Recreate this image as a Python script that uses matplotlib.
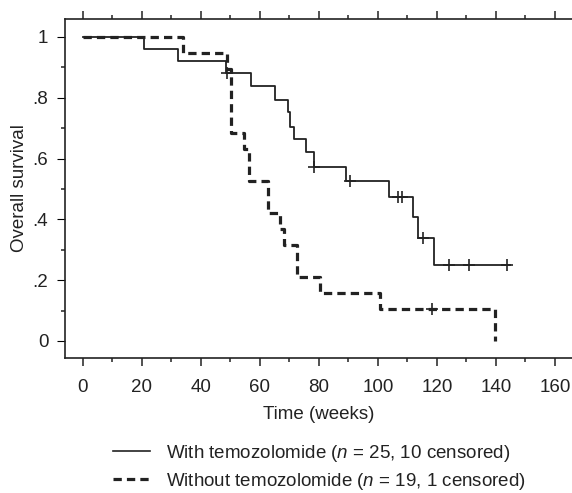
import matplotlib
matplotlib.use("Agg")
import matplotlib.pyplot as plt
from matplotlib.lines import Line2D

plt.rcParams['font.family'] = ['Liberation Sans', 'DejaVu Sans']
plt.rcParams['mathtext.fontset'] = 'custom'
plt.rcParams['mathtext.it'] = 'Liberation Sans:italic'
plt.rcParams['mathtext.rm'] = 'Liberation Sans'

# Kaplan-Meier curves (weeks, survival)
with_weeks = [0, 20.7, 32.2, 48.6, 57.0, 65.1, 69.5, 70.1, 71.4, 75.5, 78.4, 89.2, 103.7, 111.9, 113.6, 119.0, 144.9]
with_surv = [1.0, 0.96, 0.92, 0.88, 0.839, 0.793, 0.753, 0.704, 0.664, 0.622, 0.572, 0.526, 0.474, 0.408, 0.339, 0.25, 0.25]
with_cens_weeks = [48.8, 78.2, 90.5, 106.8, 108.2, 115.3, 124.1, 131.0, 143.9]
with_cens_surv = [0.88, 0.572, 0.526, 0.474, 0.474, 0.339, 0.25, 0.25, 0.25]

wo_weeks = [0, 34.0, 48.9, 50.3, 54.6, 56.2, 62.7, 66.8, 68.0, 72.5, 80.5, 100.7, 139.6]
wo_surv = [1.0, 0.947, 0.895, 0.684, 0.632, 0.526, 0.421, 0.368, 0.316, 0.211, 0.158, 0.105, 0.0]
wo_cens_weeks = [118.3]
wo_cens_surv = [0.105]

xticks = [0, 20, 40, 60, 80, 100, 120, 140, 160]
yticks = [0, 0.2, 0.4, 0.6, 0.8, 1.0]
ytick_labels = ['0', '.2', '.4', '.6', '.8', '1']

labels = [r'With temozolomide ($\it{n}$ = 25, 10 censored)',
          r'Without temozolomide ($\it{n}$ = 19, 1 censored)']

ink = '#222222'
fs = 13.5
W, H = 572, 493
fig = plt.figure(figsize=(W / 100, H / 100), dpi=100)
ax = fig.add_axes([65 / W, 1 - 358 / H, 1 - 65 / W, (358 - 19) / H])

ax.step(with_weeks, with_surv, where='post', color=ink, lw=1.3)
ax.plot(with_cens_weeks, with_cens_surv, ls='none', marker='+', ms=9, mew=1.2, color=ink)
ax.step(wo_weeks, wo_surv, where='post', color=ink, lw=2.3, linestyle=(0, (2.6, 1.6)))
ax.plot(wo_cens_weeks, wo_cens_surv, ls='none', marker='+', ms=9, mew=1.2, color=ink)

ax.set_xlim(-6.1, 165.8)
ax.set_ylim(-0.056, 1.059)
ax.set_xticks(xticks)
ax.set_xticks([x + 10 for x in xticks[:-1]], minor=True)
ax.set_yticks(yticks)
ax.set_yticklabels(ytick_labels)
ax.set_yticks([y + 0.1 for y in yticks[:-1]], minor=True)

ax.spines['right'].set_visible(False)
for s in ['left', 'top', 'bottom']:
    ax.spines[s].set_linewidth(1.2)
    ax.spines[s].set_color(ink)
ax.tick_params(axis='x', which='both', top=True, direction='out', color=ink, width=1.1)
ax.tick_params(axis='both', which='major', length=6, labelsize=fs, labelcolor=ink, pad=9)
ax.tick_params(axis='both', which='minor', length=3, color=ink, width=1.1)
ax.tick_params(axis='y', which='major', pad=6)

ax.set_xlabel('Time (weeks)', fontsize=fs, color=ink, labelpad=7)
ax.set_ylabel('Overall survival', fontsize=fs, color=ink, labelpad=3)

handles = [Line2D([], [], color=ink, lw=1.2),
           Line2D([], [], color=ink, lw=2.3, linestyle=(0, (2.6, 1.6)))]
fig.legend(handles, labels, loc='upper left', bbox_to_anchor=(96 / W, 1 - 426 / H),
           frameon=False, fontsize=fs, handlelength=1.97, handletextpad=0.85,
           labelspacing=0.38, labelcolor=ink)

fig.savefig('out.png', dpi=100)
